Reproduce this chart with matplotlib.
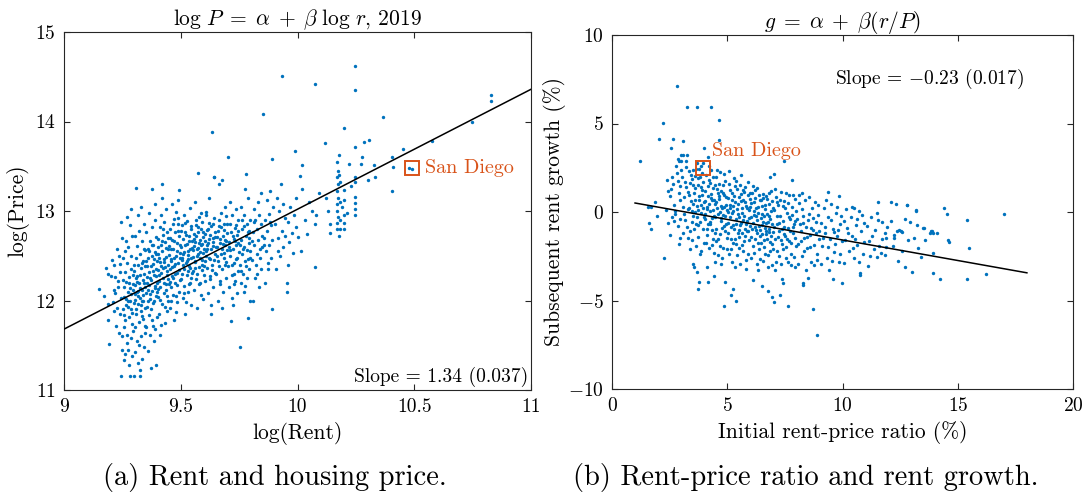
import matplotlib
matplotlib.use("Agg")
import matplotlib.pyplot as plt
import numpy as np

plt.rcParams.update({
    "font.family": "serif",
    "font.serif": ["cmr10"],
    "mathtext.fontset": "cm",
    "axes.formatter.use_mathtext": True,
    "axes.unicode_minus": True,
})

BLUE = "#0072BD"
ORANGE = "#D95319"
AXC = "#262626"

# ---------------- Panel (a): log rent vs log price ----------------
rent_price_a = [
    (9.151,12.13),(9.180,12.36),(9.190,12.30),(9.200,12.27),(9.194,11.51),(9.190,11.78),(9.188,11.96),(9.172,12.05),
    (9.237,11.64),(9.244,11.16),(9.205,12.45),(9.212,12.40),(9.220,12.08),(9.216,12.12),(9.226,12.58),(9.232,12.22),
    (9.241,11.85),(9.247,12.70),(9.229,11.92),(9.238,12.32),(9.245,12.03),(9.208,11.98),(9.235,12.50),(9.249,11.45),
    (9.223,11.72),(9.243,12.88),(9.231,12.15),(9.218,12.26),(9.248,11.60),(9.240,12.41),(9.214,11.88),
    (9.283,11.16),(9.300,11.16),(9.262,11.40),(9.268,11.52),(9.255,11.33),(9.275,11.45),(9.290,11.38),(9.271,11.62),
    (9.258,11.70),(9.286,11.58),(9.296,11.66),(9.263,11.78),(9.279,11.82),(9.253,11.90),(9.291,11.86),(9.267,11.95),
    (9.282,12.00),(9.259,12.04),(9.298,11.97),(9.273,12.10),(9.288,12.07),(9.256,12.15),(9.266,12.21),(9.294,12.18),
    (9.278,12.26),(9.261,12.32),(9.285,12.35),(9.297,12.28),(9.270,12.42),(9.252,12.48),(9.289,12.50),(9.276,12.60),
    (9.264,12.66),(9.293,12.72),(9.281,12.84),(9.269,12.93),(9.287,13.02),(9.260,12.55),(9.295,12.12),(9.274,11.93),
    (9.284,12.14),(9.257,11.84),(9.299,12.40),(9.265,12.02),(9.292,11.74),(9.277,11.28),(9.254,12.23),(9.280,12.19),
    (9.272,11.99),(9.289,11.91),(9.308,13.26),
]
rent_price_b = [
    (9.325,11.16),(9.325,11.22),(9.318,11.30),(9.305,11.42),(9.335,11.35),(9.342,11.48),(9.312,11.55),(9.328,11.60),
    (9.347,11.64),(9.303,11.70),(9.321,11.76),(9.338,11.79),(9.309,11.85),(9.331,11.88),(9.345,11.92),(9.315,11.96),
    (9.302,12.01),(9.327,12.03),(9.340,12.06),(9.311,12.09),(9.334,12.12),(9.348,12.15),(9.306,12.17),(9.322,12.20),
    (9.337,12.23),(9.314,12.27),(9.343,12.30),(9.301,12.33),(9.329,12.36),(9.317,12.40),(9.339,12.44),(9.307,12.48),
    (9.326,12.52),(9.346,12.56),(9.313,12.61),(9.333,12.66),(9.304,12.72),(9.320,12.78),(9.341,12.85),(9.316,12.95),
    (9.330,13.05),(9.336,11.99),(9.319,12.05),(9.344,12.19),(9.310,11.91),(9.324,12.14),(9.349,12.38),(9.308,12.25),
    (9.332,11.83),(9.339,12.00),(9.315,12.11),(9.327,12.29),(9.303,12.07),(9.346,11.72),(9.321,11.50),(9.336,12.42),
    (9.312,12.21),(9.329,11.95),(9.342,12.58),
    (9.373,11.25),(9.394,11.28),(9.360,11.44),(9.385,11.55),(9.370,11.62),(9.352,11.70),(9.391,11.68),(9.378,11.78),
    (9.362,11.84),(9.398,11.82),(9.356,11.93),(9.383,11.97),(9.369,12.02),(9.395,12.05),(9.351,12.08),(9.377,12.11),
    (9.388,12.14),(9.364,12.17),(9.399,12.20),(9.372,12.23),(9.357,12.26),(9.386,12.29),(9.366,12.32),(9.392,12.35),
    (9.354,12.38),(9.380,12.41),(9.397,12.44),(9.361,12.47),(9.375,12.50),(9.389,12.54),(9.358,12.58),(9.382,12.62),
    (9.368,12.67),(9.396,12.71),(9.353,12.76),(9.379,12.82),(9.390,12.90),(9.365,12.98),(9.378,13.25),(9.384,12.00),
    (9.359,12.12),(9.393,12.27),(9.371,12.39),(9.355,12.19),(9.387,12.46),(9.374,11.90),(9.363,12.55),(9.398,12.09),
    (9.381,12.33),(9.367,12.07),(9.352,12.44),(9.390,12.16),(9.376,12.62),(9.360,11.99),(9.395,12.52),(9.383,11.72),
    (9.369,12.25),(9.391,13.08),
]
rent_price_c = [
    (9.421,13.30),(9.420,13.14),(9.410,11.62),(9.432,11.75),(9.405,11.85),(9.441,11.88),(9.418,11.96),(9.447,12.00),
    (9.402,12.04),(9.428,12.08),(9.436,12.12),(9.413,12.15),(9.449,12.18),(9.407,12.22),(9.425,12.25),(9.439,12.28),
    (9.416,12.31),(9.403,12.34),(9.431,12.37),(9.444,12.40),(9.411,12.43),(9.427,12.46),(9.437,12.49),(9.404,12.52),
    (9.419,12.55),(9.446,12.58),(9.414,12.62),(9.433,12.65),(9.401,12.69),(9.424,12.73),(9.442,12.77),(9.409,12.82),
    (9.430,12.88),(9.417,12.95),(9.438,13.02),(9.412,12.01),(9.445,12.24),(9.422,12.36),(9.406,12.47),(9.435,12.59),
    (9.428,12.20),(9.415,12.39),(9.448,12.51),(9.401,12.13),(9.433,11.93),(9.419,12.66),(9.443,12.33),(9.408,12.28),
    (9.426,12.80),(9.440,12.05),(9.414,11.73),(9.430,12.43),(9.404,12.60),(9.447,12.70),(9.436,12.18),
    (9.494,13.24),(9.470,11.78),(9.455,11.92),(9.482,11.98),(9.466,12.06),(9.491,12.10),(9.458,12.15),(9.476,12.19),
    (9.497,12.23),(9.462,12.27),(9.485,12.31),(9.453,12.35),(9.472,12.39),(9.489,12.42),(9.460,12.46),(9.479,12.50),
    (9.495,12.53),(9.468,12.57),(9.451,12.61),(9.483,12.64),(9.464,12.68),(9.492,12.72),(9.474,12.76),(9.456,12.80),
    (9.487,12.85),(9.469,12.91),(9.480,12.99),(9.461,13.08),(9.490,13.12),(9.475,12.30),(9.457,12.44),(9.486,12.55),
    (9.463,12.37),(9.498,12.47),(9.471,12.66),(9.452,12.21),(9.484,12.17),(9.466,12.85),(9.493,12.34),(9.459,12.58),
    (9.478,12.05),(9.488,12.78),(9.454,12.70),(9.473,12.48),(9.496,12.62),(9.465,12.25),(9.481,11.87),(9.459,12.00),
    (9.477,12.41),(9.490,12.92),
]
rent_price_d = [
    (9.520,11.85),(9.545,11.95),(9.508,12.03),(9.533,12.10),(9.516,12.16),(9.541,12.20),(9.503,12.24),(9.527,12.28),
    (9.549,12.31),(9.512,12.35),(9.536,12.38),(9.522,12.42),(9.505,12.45),(9.544,12.48),(9.530,12.51),(9.514,12.54),
    (9.539,12.57),(9.501,12.60),(9.525,12.63),(9.547,12.66),(9.510,12.69),(9.534,12.72),(9.519,12.76),(9.542,12.80),
    (9.506,12.84),(9.528,12.89),(9.516,12.95),(9.538,13.03),(9.511,12.40),(9.531,12.46),(9.548,12.59),(9.504,12.30),
    (9.523,12.73),(9.540,12.36),(9.517,12.62),(9.535,12.18),(9.509,12.52),(9.546,12.83),(9.526,12.44),(9.513,12.08),
    (9.537,12.67),(9.502,12.78),(9.529,12.33),(9.543,12.25),(9.518,12.87),(9.532,12.55),(9.507,12.48),(9.524,11.98),
    (9.575,13.42),(9.560,13.10),(9.585,12.98),(9.570,11.92),(9.594,12.02),(9.556,12.12),(9.580,12.18),(9.565,12.24),
    (9.598,12.28),(9.552,12.33),(9.577,12.37),(9.590,12.40),(9.561,12.44),(9.583,12.47),(9.568,12.50),(9.596,12.53),
    (9.554,12.56),(9.574,12.59),(9.588,12.62),(9.563,12.65),(9.581,12.68),(9.597,12.71),(9.557,12.74),(9.572,12.77),
    (9.586,12.80),(9.566,12.84),(9.592,12.88),(9.578,12.93),(9.559,12.43),(9.584,12.54),(9.571,12.30),(9.593,12.63),
    (9.555,12.69),(9.569,12.57),(9.589,12.45),(9.576,12.82),(9.562,12.36),(9.595,12.76),(9.582,12.20),(9.567,12.72),
    (9.553,12.49),(9.579,12.64),(9.591,12.34),(9.564,12.90),(9.587,12.06),(9.573,12.52),(9.558,12.61),(9.599,12.58),
]
rent_price_e = [
    (9.642,13.38),(9.635,13.88),(9.644,13.38),(9.620,13.15),(9.610,12.95),(9.630,11.95),(9.615,12.08),(9.640,12.15),
    (9.605,12.22),(9.625,12.27),(9.648,12.31),(9.612,12.36),(9.633,12.40),(9.602,12.44),(9.621,12.48),(9.645,12.52),
    (9.608,12.55),(9.629,12.58),(9.639,12.61),(9.617,12.64),(9.603,12.67),(9.636,12.70),(9.624,12.73),(9.646,12.76),
    (9.611,12.79),(9.631,12.83),(9.619,12.87),(9.641,12.92),(9.606,12.99),(9.627,12.46),(9.614,12.57),(9.637,12.65),
    (9.601,12.38),(9.649,12.60),(9.622,12.69),(9.609,12.50),(9.634,12.34),(9.618,12.80),(9.643,12.45),(9.626,12.24),
    (9.604,12.74),(9.638,12.85),(9.613,12.62),(9.647,12.71),(9.628,11.85),
    (9.664,13.30),(9.701,13.60),(9.675,13.35),(9.690,13.05),(9.658,12.00),(9.683,12.10),(9.668,12.18),(9.694,12.25),
    (9.652,12.30),(9.677,12.35),(9.689,12.40),(9.661,12.44),(9.685,12.48),(9.671,12.52),(9.696,12.56),(9.655,12.60),
    (9.679,12.63),(9.692,12.66),(9.666,12.69),(9.681,12.72),(9.699,12.75),(9.659,12.78),(9.674,12.82),(9.687,12.86),
    (9.663,12.90),(9.695,12.94),(9.672,12.98),(9.686,12.53),(9.667,12.64),(9.693,12.43),(9.654,12.71),(9.678,12.57),
    (9.698,12.85),(9.662,12.38),(9.684,12.79),(9.670,12.22),(9.691,12.62),(9.657,12.50),(9.676,11.92),(9.688,12.68),
    (9.665,12.83),
    (9.715,11.77),(9.725,11.95),(9.740,12.08),(9.708,12.15),(9.732,12.22),(9.718,12.28),(9.745,12.33),(9.703,12.38),
    (9.727,12.42),(9.738,12.46),(9.712,12.50),(9.748,12.54),(9.722,12.58),(9.735,12.62),(9.705,12.65),(9.729,12.69),
    (9.743,12.73),(9.716,12.77),(9.733,12.81),(9.709,12.86),(9.746,12.90),(9.721,12.95),(9.738,13.02),(9.713,13.10),
    (9.730,12.30),(9.741,12.48),(9.706,12.60),(9.724,12.72),(9.747,12.64),(9.719,12.40),(9.736,12.84),(9.711,12.56),
    (9.728,12.18),(9.744,12.78),(9.720,12.03),(9.732,12.66),
]
rent_price_f = [
    (9.754,11.48),(9.787,11.81),(9.779,13.41),(9.770,12.10),(9.795,12.00),(9.758,12.20),(9.782,12.25),(9.765,12.30),
    (9.791,12.35),(9.752,12.40),(9.776,12.44),(9.798,12.48),(9.761,12.52),(9.785,12.56),(9.769,12.60),(9.793,12.64),
    (9.756,12.68),(9.778,12.72),(9.789,12.76),(9.763,12.80),(9.784,12.85),(9.797,12.90),(9.771,12.95),(9.759,13.05),
    (9.790,13.15),(9.774,13.25),(9.781,12.38),(9.766,12.58),(9.794,12.70),(9.753,12.62),(9.786,12.46),(9.772,12.83),
    (9.760,12.33),(9.796,12.55),(9.777,12.16),(9.792,12.78),(9.764,12.90),
    (9.810,12.00),(9.835,12.15),(9.820,12.25),(9.845,12.35),(9.805,12.45),(9.828,12.52),(9.840,12.58),(9.815,12.62),
    (9.832,12.68),(9.848,12.72),(9.808,12.76),(9.825,12.80),(9.842,12.85),(9.818,12.90),(9.836,12.95),(9.812,13.02),
    (9.829,13.10),(9.845,13.20),(9.822,12.40),(9.838,12.48),(9.803,12.66),(9.847,12.60),(9.827,12.30),(9.814,12.88),
    (9.854,14.08),(9.892,13.58),(9.892,11.91),(9.860,12.20),(9.875,12.35),(9.885,12.48),(9.865,12.55),(9.880,12.62),
    (9.857,12.70),(9.870,12.78),(9.888,12.84),(9.862,12.90),(9.878,12.97),(9.895,13.05),(9.868,13.12),(9.884,13.22),
    (9.872,12.42),(9.890,12.68),(9.858,12.62),(9.881,12.88),
    (9.932,14.51),(9.910,12.35),(9.925,12.50),(9.940,12.60),(9.915,12.70),(9.935,12.78),(9.905,12.85),(9.945,12.92),
    (9.920,13.00),(9.938,13.08),(9.912,13.15),(9.928,13.30),(9.948,12.72),(9.918,12.55),
    (9.954,12.19),(9.954,12.10),(9.980,12.53),(9.989,13.67),(9.965,12.65),(9.975,12.75),(9.960,12.88),(9.985,12.95),
    (9.970,13.05),(9.995,12.82),(9.958,12.40),(9.992,13.15),
]
rent_price_g = [
    (10.000,12.71),(10.015,12.55),(10.010,13.39),(10.020,13.51),(10.040,12.74),(10.030,12.90),(10.060,13.00),
    (10.080,12.95),(10.075,12.855),(10.075,12.37),(10.075,14.42),(10.050,13.10),(10.090,13.20),(10.020,13.25),
    (10.118,13.76),(10.139,12.855),(10.139,12.75),(10.120,13.15),(10.130,13.00),
    (10.170,13.55),(10.172,13.45),(10.170,13.38),(10.172,13.30),(10.170,13.22),(10.173,13.15),(10.171,13.08),
    (10.170,13.00),(10.172,12.93),(10.170,12.87),(10.171,12.80),(10.179,13.63),(10.179,13.40),(10.180,13.32),
    (10.181,13.10),(10.180,12.90),(10.182,12.80),(10.178,12.72),(10.199,13.93),(10.199,13.23),(10.199,13.12),
    (10.200,12.87),(10.201,12.80),(10.200,12.95),(10.190,13.05),
    (10.220,13.53),(10.246,14.62),(10.246,14.35),(10.246,13.71),(10.246,13.38),(10.246,13.32),(10.246,13.16),
    (10.246,13.09),(10.246,13.02),(10.246,12.96),(10.230,13.28),(10.210,12.98),
    (10.270,13.53),(10.278,13.60),(10.285,13.77),(10.306,13.79),(10.300,13.35),(10.330,13.38),(10.328,13.51),
    (10.368,14.05),(10.406,13.60),(10.406,13.22),(10.410,13.49),(10.453,13.69),(10.477,13.48),(10.490,13.47),
    (10.577,13.78),(10.746,13.99),(10.829,14.30),(10.829,14.23),
]
fit_a_intercept_at_9 = 11.68
fit_a_slope = 1.34
san_diego_a = (10.49, 13.48)

# ---------------- Panel (b): rent-price ratio vs subsequent rent growth ----------------
ratio_growth_a = [
    (1.21,2.88),(1.55,0.27),(1.68,0.27),(1.62,-0.64),(1.68,-0.98),(1.87,0.56),(2.05,4.11),(1.95,-0.20),
    (2.23,5.05),(2.63,4.14),(2.55,3.63),(2.83,7.14),(2.26,-2.62),(2.52,-1.30),(2.92,-1.81),(2.95,-1.49),
    (2.40,1.80),(2.65,1.60),(2.80,2.20),(2.50,0.90),(2.70,0.40),(2.90,1.10),(2.35,0.10),(2.60,-0.30),
    (2.85,-0.80),(2.45,-0.60),(2.75,-0.10),(2.95,0.70),(2.58,1.30),(2.88,1.75),(2.68,-0.50),(2.78,2.60),
    (2.98,2.40),(2.42,1.20),(2.73,0.05),(2.93,-0.40),(2.62,2.00),(2.97,1.45),(2.85,3.00),(2.90,2.90),(2.99,3.22),
    (3.24,5.91),(3.70,5.91),(3.07,4.03),(3.07,3.22),(3.27,3.22),(3.00,2.90),(3.20,2.90),(3.79,-3.97),(3.75,-4.37),
    (3.70,-3.41),(3.56,-3.09),(3.53,-2.96),(3.85,-2.18),(3.78,2.45),(3.88,2.62),(3.95,2.75),
    (3.05,1.95),(3.12,0.85),(3.18,-0.45),(3.22,1.40),(3.28,0.15),(3.33,2.30),(3.38,-1.05),(3.42,0.60),
    (3.47,1.85),(3.51,-0.20),(3.55,1.10),(3.60,2.05),(3.63,-0.70),(3.67,0.35),(3.71,1.55),(3.75,-1.40),
    (3.79,0.90),(3.83,1.95),(3.87,-0.05),(3.91,1.25),(3.95,-0.95),(3.98,0.55),(3.08,-1.20),(3.15,1.70),
    (3.25,-0.85),(3.35,0.95),(3.45,-1.60),(3.52,2.35),(3.58,0.00),(3.66,-1.90),(3.73,1.90),(3.81,-0.55),
    (3.89,2.20),(3.93,0.20),(3.10,0.30),(3.20,2.55),(3.30,-1.45),(3.40,1.65),(3.50,0.45),(3.61,1.35),
    (3.69,-0.30),(3.77,0.70),(3.85,1.40),(3.97,-1.75),(3.14,-0.10),(3.36,0.25),(3.44,2.10),(3.57,-0.95),
    (3.65,2.45),(3.82,-2.35),(3.90,0.95),(3.31,1.15),(3.48,-0.55),(3.62,0.70),(3.74,-0.75),(3.86,0.40),
    (3.96,1.70),(3.39,-2.10),(3.53,1.55),(3.68,2.75),(3.99,-0.30),(3.46,0.05),(3.72,0.10),
]
ratio_growth_b = [
    (4.31,5.91),(4.64,5.20),(4.64,4.07),(4.00,3.60),(4.18,3.12),(4.86,-5.31),(4.90,-3.97),(4.13,-3.13),
    (4.18,-3.94),(4.44,-3.62),
    (4.02,1.20),(4.05,-0.40),(4.08,2.10),(4.11,0.30),(4.14,-1.30),(4.17,0.90),(4.20,1.80),(4.23,-0.70),
    (4.26,0.05),(4.29,2.40),(4.32,-1.85),(4.35,0.65),(4.38,1.35),(4.41,-0.20),(4.44,-2.30),(4.47,0.45),
    (4.50,1.95),(4.53,-0.95),(4.56,0.20),(4.59,1.10),(4.62,-1.55),(4.65,0.75),(4.68,2.25),(4.71,-0.50),
    (4.74,0.35),(4.77,-2.60),(4.80,1.50),(4.83,-0.15),(4.86,0.95),(4.89,-1.10),(4.92,1.75),(4.95,-0.65),
    (4.98,0.10),(4.04,0.60),(4.10,-0.95),(4.16,1.45),(4.22,-2.05),(4.28,0.80),(4.34,-0.35),(4.40,2.00),
    (4.46,-1.20),(4.52,0.55),(4.58,-0.10),(4.64,1.60),(4.70,-1.90),(4.76,0.25),(4.82,1.05),(4.88,-0.80),
    (4.94,0.40),(4.99,-1.45),(4.07,-1.75),(4.13,0.15),(4.19,2.60),(4.25,-0.55),(4.31,1.00),(4.37,-1.50),
    (4.43,0.70),(4.49,-0.30),(4.55,1.30),(4.61,-2.45),(4.67,0.00),(4.73,1.20),(4.79,-0.90),(4.85,2.15),
    (4.91,-0.25),(4.97,-2.10),(4.03,-0.10),(4.15,-0.65),(4.27,1.65),(4.39,0.10),(4.51,-1.65),(4.63,0.90),
    (4.75,-0.35),(4.87,0.30),(4.21,0.45),(4.45,1.50),(4.69,-1.25),(4.93,0.85),(4.33,-1.00),(4.57,2.35),
    (4.81,-2.05),(4.48,-2.85),(4.72,-2.95),
    (5.15,-4.69),(5.24,-4.37),(5.37,-5.01),
    (5.02,0.80),(5.05,-1.20),(5.08,1.60),(5.11,-0.30),(5.14,0.40),(5.17,-2.10),(5.20,1.10),(5.23,-0.75),
    (5.26,0.05),(5.29,1.90),(5.32,-1.55),(5.35,0.55),(5.38,-0.40),(5.41,1.30),(5.44,-2.45),(5.47,-0.10),
    (5.50,0.85),(5.53,-1.00),(5.56,1.55),(5.59,-0.60),(5.62,0.25),(5.65,-1.85),(5.68,0.70),(5.71,-0.25),
    (5.74,1.15),(5.77,-1.35),(5.80,0.35),(5.83,-2.70),(5.86,-0.50),(5.89,0.95),(5.92,-1.10),(5.95,0.10),
    (5.98,-0.80),(5.04,-0.60),(5.10,0.20),(5.16,-1.50),(5.22,0.65),(5.28,-0.95),(5.34,1.45),(5.40,-1.80),
    (5.46,0.45),(5.52,-0.30),(5.58,1.00),(5.64,-1.20),(5.70,-2.20),(5.76,0.55),(5.82,-0.70),(5.88,1.70),
    (5.94,-1.60),(5.99,0.30),(5.07,-2.40),(5.13,1.25),(5.19,-0.05),(5.25,-1.75),(5.31,0.90),(5.37,-0.65),
    (5.43,0.15),(5.49,-1.40),(5.55,-2.95),(5.61,0.60),(5.67,-0.45),(5.73,-1.65),(5.79,1.40),(5.85,-1.05),
    (5.91,-2.35),(5.97,0.75),(5.03,0.00),(5.15,-0.85),(5.27,0.35),(5.39,1.75),(5.51,-2.05),(5.63,-0.05),
    (5.75,-0.95),(5.87,0.20),(5.21,-2.80),(5.45,-1.20),(5.69,1.25),(5.93,-0.35),(5.33,-3.10),(5.57,-0.75),
    (5.81,-3.20),(5.09,2.30),(5.60,2.10),(5.99,1.05),
]
ratio_growth_c = [
    (6.10,-3.84),(6.49,-4.16),(6.75,-4.45),(6.87,2.00),(6.93,-4.78),
    (6.02,0.50),(6.05,-1.40),(6.08,1.10),(6.11,-0.60),(6.14,0.05),(6.17,-2.30),(6.20,0.80),(6.23,-1.00),
    (6.26,-0.20),(6.29,1.35),(6.32,-1.75),(6.35,0.30),(6.38,-0.80),(6.41,-2.65),(6.44,0.65),(6.47,-0.35),
    (6.50,-1.25),(6.53,1.00),(6.56,-0.55),(6.59,-1.95),(6.62,0.15),(6.65,-0.90),(6.68,0.90),(6.71,-1.50),
    (6.74,-0.10),(6.77,-2.45),(6.80,0.45),(6.83,-1.15),(6.86,-0.40),(6.89,1.20),(6.92,-1.80),(6.95,-0.70),
    (6.98,0.25),(6.04,-0.30),(6.10,-1.90),(6.16,0.55),(6.22,-0.85),(6.28,-2.95),(6.34,-0.05),(6.40,-1.35),
    (6.46,0.70),(6.52,-0.75),(6.58,-1.60),(6.64,0.40),(6.70,-1.05),(6.76,-3.10),(6.82,-0.25),(6.88,-1.35),
    (6.94,0.60),(6.99,-2.10),(6.07,-0.95),(6.13,1.45),(6.19,-1.55),(6.25,0.20),(6.31,-0.45),(6.37,-2.10),
    (6.43,-1.00),(6.49,0.35),(6.55,-2.75),(6.61,-0.20),(6.67,-1.25),(6.73,0.75),(6.79,-0.95),(6.85,-2.20),
    (6.91,0.05),(6.97,-1.15),(6.03,-2.60),(6.15,-0.15),(6.27,-1.20),(6.39,0.95),(6.51,-0.10),(6.63,-2.35),
    (6.75,-0.55),(6.87,-1.70),(6.21,1.25),(6.45,-1.75),(6.69,-0.60),(6.93,-3.00),(6.33,-3.30),(6.57,0.80),
    (6.81,1.10),
    (7.04,2.15),(7.45,2.90),(7.80,1.81),(7.29,-4.71),(7.03,-5.07),(7.36,-3.80),(7.43,-3.99),(7.65,-5.29),
    (7.02,0.10),(7.06,-1.55),(7.10,0.85),(7.14,-0.65),(7.18,-2.20),(7.22,0.40),(7.26,-1.10),(7.30,-0.25),
    (7.34,1.15),(7.38,-1.80),(7.42,-0.50),(7.46,0.60),(7.50,-1.35),(7.54,-2.60),(7.58,-0.05),(7.62,-0.90),
    (7.66,0.95),(7.70,-1.65),(7.74,-0.40),(7.78,-2.35),(7.82,0.30),(7.86,-1.20),(7.90,-0.70),(7.94,0.75),
    (7.98,-1.90),(7.04,-0.85),(7.12,-2.85),(7.20,-1.40),(7.28,0.70),(7.36,-0.95),(7.44,-2.10),(7.52,0.20),
    (7.60,-1.55),(7.68,-0.30),(7.76,-3.00),(7.84,-0.85),(7.92,-1.45),(7.99,0.05),(7.08,1.30),(7.16,-0.20),
    (7.24,-2.50),(7.32,-1.60),(7.40,0.35),(7.48,-0.85),(7.56,-1.95),(7.64,0.50),(7.72,-1.05),(7.80,-0.15),
    (7.88,-2.55),(7.96,-0.50),(7.05,-3.25),(7.25,-0.60),(7.45,-1.25),(7.65,-2.85),(7.85,0.95),(7.15,0.55),
    (7.35,-2.95),(7.55,1.05),(7.75,-1.75),(7.95,-3.10),
]
ratio_growth_d = [
    (8.23,1.05),(8.27,-4.03),(8.30,-4.10),(8.49,-3.71),(8.73,-5.50),(8.89,-6.97),
    (8.03,-0.40),(8.08,-1.80),(8.13,0.50),(8.18,-1.10),(8.23,-2.50),(8.28,-0.25),(8.33,-1.45),(8.38,0.70),
    (8.43,-0.85),(8.48,-2.05),(8.53,-0.10),(8.58,-1.30),(8.63,-2.80),(8.68,0.25),(8.73,-1.00),(8.78,-1.85),
    (8.83,-0.55),(8.88,-2.35),(8.93,0.40),(8.98,-1.55),(8.05,-2.95),(8.15,-0.70),(8.25,0.15),(8.35,-2.20),
    (8.45,-1.40),(8.55,0.85),(8.65,-0.90),(8.75,-3.00),(8.85,-1.20),(8.95,-0.15),(8.10,0.95),(8.20,-1.65),
    (8.30,-0.60),(8.40,-3.25),(8.50,-0.45),(8.60,-1.95),(8.70,-0.35),(8.80,0.55),(8.90,-2.70),(8.99,-1.05),
    (9.39,1.11),(9.86,0.92),(9.60,-3.79),(9.96,-3.99),
    (9.05,-0.60),(9.12,-1.90),(9.18,0.20),(9.25,-1.20),(9.31,-2.60),(9.38,-0.30),(9.44,-1.55),(9.51,0.45),
    (9.57,-0.95),(9.64,-2.25),(9.70,-0.05),(9.77,-1.35),(9.83,-2.85),(9.90,-0.70),(9.96,-1.65),(9.08,-2.95),
    (9.22,-0.85),(9.35,-2.00),(9.48,-0.45),(9.62,-1.15),(9.75,0.30),(9.88,-2.35),(9.15,-1.45),(9.42,-3.30),
    (9.68,-1.80),(9.94,-0.20),(9.28,0.65),(9.55,-2.75),(9.81,-1.00),
    (10.51,0.21),(10.76,-3.46),(10.78,-3.55),
    (10.05,-0.50),(10.12,-1.60),(10.20,-0.90),(10.28,-2.20),(10.35,-0.30),(10.42,-1.35),(10.50,-2.60),
    (10.58,-0.75),(10.65,-1.85),(10.72,0.05),(10.80,-1.10),(10.88,-2.35),(10.95,-0.60),(10.08,-2.90),
    (10.25,-1.20),(10.40,0.30),(10.55,-1.55),(10.70,-2.85),(10.85,-0.15),(10.15,0.15),(10.45,-2.05),
    (10.62,-0.40),(10.92,-1.70),
]
ratio_growth_e = [
    (11.56,0.58),(11.48,-2.56),(11.84,-2.43),(11.09,-3.03),(11.48,-0.04),(11.52,-0.47),(11.73,-0.55),
    (11.84,-1.20),(11.87,-1.45),(11.71,-1.54),(11.05,-0.80),(11.15,-1.65),(11.25,-0.30),(11.35,-2.10),
    (11.42,-1.00),(11.60,-1.90),(11.95,-0.85),(11.20,-2.50),(11.65,-2.30),(11.30,-1.35),(11.90,-2.00),
    (12.09,0.58),(12.30,0.43),(12.81,0.40),(12.12,-0.51),(12.73,-0.41),(12.92,-0.55),(12.20,-1.90),
    (12.25,-1.30),(12.25,-1.49),(12.38,-1.05),(12.45,-1.00),(12.52,-1.10),(12.60,-1.15),(12.78,0.38),
    (12.71,-3.11),(12.60,-2.20),(12.40,-2.75),(12.85,-1.60),
    (13.19,0.09),(13.17,0.07),(13.22,-0.73),(13.54,-0.92),(13.80,-1.20),(13.88,-1.09),(13.84,-1.07),
    (13.91,-1.17),(13.51,-0.92),(13.29,-2.05),(13.41,-2.56),(13.94,-2.33),(13.03,-3.39),(13.94,-3.46),
    (13.60,-1.60),(13.10,-1.45),
    (14.42,0.24),(14.55,-0.13),(14.59,-1.58),(14.64,-1.68),(14.23,-3.80),(15.39,-0.47),(15.49,-2.03),
    (16.21,-3.52),(15.41,-3.80),(17.02,-0.11),(14.10,-1.20),
]
fit_b_intercept = 0.74
fit_b_slope = -0.232
fit_b_range = (1.0, 18.0)
san_diego_b = (3.93, 2.51)

pts_a = np.array(rent_price_a + rent_price_b + rent_price_c + rent_price_d +
                 rent_price_e + rent_price_f + rent_price_g)
pts_b = np.array(ratio_growth_a + ratio_growth_b + ratio_growth_c + ratio_growth_d + ratio_growth_e)

fig = plt.figure(figsize=(10.89, 4.99), dpi=100)
ax1 = fig.add_axes([64/1089, 1-390/499, 467/1089, 358/499])
ax2 = fig.add_axes([612/1089, 1-389/499, 461/1089, 354/499])

MS = 6.0
TICK_FS = 14
LABEL_FS = 15.5
ax1.scatter(pts_a[:, 0], pts_a[:, 1], s=MS, color=BLUE, linewidths=0, zorder=2)
xl = np.array([9.0, 11.0])
ax1.plot(xl, fit_a_intercept_at_9 + fit_a_slope*(xl-9.0), color="black", lw=1.1, zorder=3)
ax1.plot([san_diego_a[0]], [san_diego_a[1]], marker="s", ms=10, mfc="none", mec=ORANGE, mew=1.4, zorder=4)
ax1.text(10.545, san_diego_a[1], "San Diego", color=ORANGE, fontsize=14.5, va="center", ha="left")
ax1.text(10.99, 11.03, "Slope = 1.34 (0.037)", fontsize=14, ha="right", va="bottom")
ax1.set_xlim(9, 11)
ax1.set_ylim(11, 15)
ax1.set_xticks([9, 9.5, 10, 10.5, 11])
ax1.set_xticklabels(["9", "9.5", "10", "10.5", "11"])
ax1.set_yticks([11, 12, 13, 14, 15])
ax1.set_xlabel("log(Rent)", fontsize=LABEL_FS, labelpad=4)
ax1.set_ylabel("log(Price)", fontsize=LABEL_FS, labelpad=4)
ax1.set_title(r"$\log\,P\;=\;\alpha\;+\;\beta\;\log\,r$, 2019", fontsize=LABEL_FS, pad=5)

ax2.scatter(pts_b[:, 0], pts_b[:, 1], s=MS, color=BLUE, linewidths=0, zorder=2)
xr = np.array(fit_b_range)
ax2.plot(xr, fit_b_intercept + fit_b_slope*xr, color="black", lw=1.1, zorder=3)
ax2.plot([san_diego_b[0]], [san_diego_b[1]], marker="s", ms=10, mfc="none", mec=ORANGE, mew=1.4, zorder=4)
ax2.text(4.34, 3.46, "San Diego", color=ORANGE, fontsize=14.5, va="center", ha="left")
ax2.text(9.67, 7.5, r"Slope = $-$0.23 (0.017)", fontsize=14, ha="left", va="center")
ax2.set_xlim(0, 20)
ax2.set_ylim(-10, 10)
ax2.set_xticks([0, 5, 10, 15, 20])
ax2.set_yticks([-10, -5, 0, 5, 10])
ax2.set_xlabel("Initial rent-price ratio (%)", fontsize=LABEL_FS, labelpad=4)
ax2.set_ylabel("Subsequent rent growth (%)", fontsize=LABEL_FS, labelpad=1)
ax2.set_title(r"$g\;=\;\alpha\;+\;\beta(r/P)$", fontsize=LABEL_FS, pad=5)

for ax in (ax1, ax2):
    for sp in ax.spines.values():
        sp.set_color(AXC)
        sp.set_linewidth(0.8)
    ax.tick_params(direction="in", top=True, right=True, length=4, width=0.8,
                   color=AXC, labelsize=TICK_FS, pad=6)

fig.text(275/1089, 1-478/499, "(a) Rent and housing price.", fontsize=20.5, ha="center", va="center")
fig.text(806/1089, 1-478/499, "(b) Rent-price ratio and rent growth.", fontsize=20.5, ha="center", va="center")

fig.savefig("out.png", dpi=100)
